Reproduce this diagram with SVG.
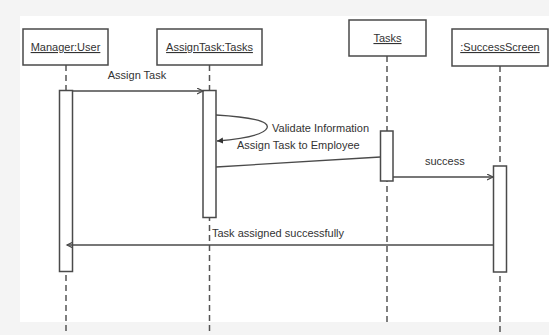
<svg xmlns="http://www.w3.org/2000/svg" width="549" height="335" viewBox="0 0 549 335">
<defs>
<style>
.box{fill:#fff;stroke:#4a4a4a;stroke-width:1.5}
.act{fill:#fff;stroke:#4a4a4a;stroke-width:1.5}
.life{stroke:#555;stroke-width:1.5;stroke-dasharray:6 4;fill:none}
.msg{stroke:#4a4a4a;stroke-width:1.3;fill:none}
text{font-family:"Liberation Sans",Arial,sans-serif;font-size:11px;fill:#333}
.lbl{text-anchor:middle;text-decoration:underline}
</style>
<marker id="open" markerWidth="10" markerHeight="10" refX="6" refY="3" orient="auto" markerUnits="userSpaceOnUse">
<path d="M0,0 L6,3 L0,6" fill="none" stroke="#4a4a4a" stroke-width="1.2"/>
</marker>
<marker id="fill" markerWidth="10" markerHeight="10" refX="6" refY="3" orient="auto" markerUnits="userSpaceOnUse">
<path d="M0,0 L6,3 L0,6 Z" fill="#333"/>
</marker>
</defs>
<rect x="0" y="0" width="549" height="335" fill="#f4f4f4"/>
<rect x="20" y="16" width="529" height="306" fill="#fff"/>

<g id="lifelines">
<line class="life" x1="66" y1="65" x2="66" y2="335"/>
<line class="life" x1="209.5" y1="65" x2="209.5" y2="335"/>
<line class="life" x1="387" y1="56" x2="387" y2="325"/>
<line class="life" x1="500" y1="66" x2="500" y2="335"/>
</g>

<g id="manager">
<rect class="box" x="23" y="29" width="85" height="36"/>
<text class="lbl" x="65.5" y="51">Manager:User</text>
<rect class="act" x="59.5" y="90.5" width="13" height="181"/>
</g>
<g id="assigntask">
<rect class="box" x="157" y="29" width="105" height="36"/>
<text class="lbl" x="209.5" y="51">AssignTask:Tasks</text>
<rect class="act" x="203" y="90.5" width="13" height="127"/>
</g>
<g id="tasks">
<rect class="box" x="349" y="20" width="77" height="36"/>
<text class="lbl" x="387.5" y="42">Tasks</text>
<rect class="act" x="380.5" y="131" width="12.5" height="50"/>
</g>
<g id="successscreen">
<rect class="box" x="452" y="29" width="96" height="37"/>
<text class="lbl" x="500" y="51">:SuccessScreen</text>
<rect class="act" x="493.5" y="166" width="13" height="106"/>
</g>

<g id="connectors">
<line class="msg" x1="72.5" y1="91" x2="203" y2="91" marker-end="url(#open)"/>
<text x="137" y="79" text-anchor="middle">Assign Task</text>
<path class="msg" d="M216,115 C250,117 270,121 267,128 C264,135 240,139 217,141" marker-end="url(#fill)"/>
<text x="272" y="132">Validate Information</text>
<text x="237" y="149">Assign Task to Employee</text>
<line class="msg" x1="216" y1="167" x2="380.5" y2="157"/>
<line class="msg" x1="393" y1="177" x2="493" y2="177" marker-end="url(#open)"/>
<text x="425" y="165">success</text>
<line class="msg" x1="493.5" y1="245" x2="67" y2="245" marker-end="url(#open)"/>
<text x="212" y="237">Task assigned successfully</text>
</g>
</svg>
